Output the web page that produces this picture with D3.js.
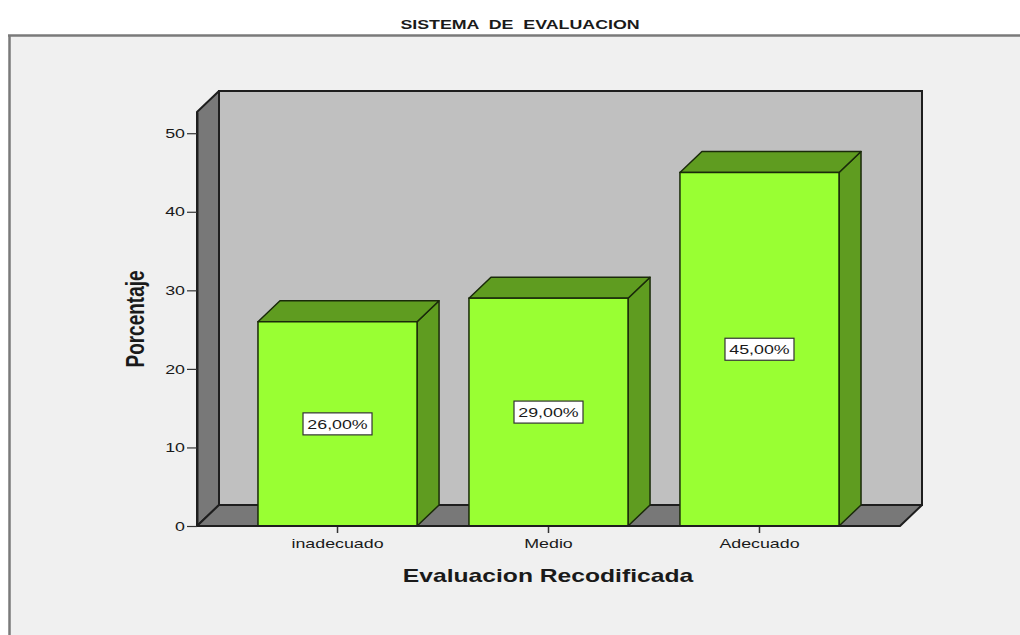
<!DOCTYPE html>
<html>
<head>
<meta charset="utf-8">
<script src="https://cdn.jsdelivr.net/npm/d3@7/dist/d3.min.js"></script>
<style>
  html, body { margin: 0; padding: 0; background: #ffffff; }
  svg { display: block; }
  text { font-family: "Liberation Sans", Arial, sans-serif; fill: #1a1a1a; }
</style>
</head>
<body>
<svg id="chart" width="1020" height="635"></svg>
<script>
// Chart data
const categories = ["inadecuado", "Medio", "Adecuado"];
const percentages = [26, 29, 45];
const yTicks = [0, 10, 20, 30, 40, 50];
const yExtent = [0, 52.7];
const chartTitle = "SISTEMA  DE  EVALUACION";
const xTitle = "Evaluacion Recodificada";
const yTitle = "Porcentaje";

const W = 1020, H = 635;
const SX = 1.37;              // horizontal stretch applied to all text
const depth = { dx: 22, dy: -21 };
const plot = { left: 197, right: 900, bottom: 526, top: 112 };

const svg = d3.select("#chart");

// Stretched text helper
function stretchedText(g, x, y, str, opts) {
  const t = g.append("text")
    .attr("transform", `translate(${x},${y}) scale(${SX},1)` + (opts.rotate ? ` rotate(${opts.rotate})` : ""))
    .attr("text-anchor", opts.anchor || "middle")
    .style("font-size", opts.size + "px")
    .style("font-weight", opts.weight || "normal")
    .text(str);
  if (opts.dy) t.attr("dy", opts.dy);
  return t;
}

// Title
stretchedText(svg, 520, 28.5, chartTitle, { size: 13, weight: "bold" }).style("white-space", "pre").attr("xml:space", "preserve");

// Panel
svg.append("rect").attr("x", 9).attr("y", 35).attr("width", W).attr("height", H)
  .attr("fill", "#f0f0f0");
svg.append("line").attr("x1", 8).attr("x2", W).attr("y1", 35.5).attr("y2", 35.5)
  .attr("stroke", "#7a7a7a").attr("stroke-width", 2.5);
svg.append("line").attr("x1", 9.5).attr("x2", 9.5).attr("y1", 35).attr("y2", H)
  .attr("stroke", "#7a7a7a").attr("stroke-width", 2.5);

// Scales
const x = d3.scaleBand().domain(categories)
  .range([plot.left, plot.right]).paddingInner(0.246).paddingOuter(0.289);
const y = d3.scaleLinear().domain(yExtent).range([plot.bottom, plot.top]);

const dx = depth.dx, dy = depth.dy;
const y0 = y(yExtent[0]), yTop = y(yExtent[1]);
const wallStroke = "#1e1e1e";

// Back wall
svg.append("rect")
  .attr("x", plot.left + dx).attr("y", yTop + dy)
  .attr("width", plot.right - plot.left).attr("height", y0 - yTop)
  .attr("fill", "#c0c0c0").attr("stroke", wallStroke).attr("stroke-width", 2);

// Left wall
svg.append("polygon")
  .attr("points", [[plot.left, y0], [plot.left, yTop], [plot.left + dx, yTop + dy], [plot.left + dx, y0 + dy]].join(" "))
  .attr("fill", "#787878").attr("stroke", wallStroke).attr("stroke-width", 2).attr("stroke-linejoin", "round");

// Floor
svg.append("polygon")
  .attr("points", [[plot.left, y0], [plot.right, y0], [plot.right + dx, y0 + dy], [plot.left + dx, y0 + dy]].join(" "))
  .attr("fill", "#787878").attr("stroke", wallStroke).attr("stroke-width", 2).attr("stroke-linejoin", "round");

// Bars
const data = categories.map((c, i) => ({ c, v: percentages[i] }));
const bars = svg.append("g").selectAll("g").data(data).join("g");
const barStroke = "#1a2a0a";
const bw = x.bandwidth();

bars.append("polygon") // side
  .attr("points", d => {
    const x1 = x(d.c) + bw, yv = y(d.v);
    return [[x1, yv], [x1 + dx, yv + dy], [x1 + dx, y0 + dy], [x1, y0]].join(" ");
  })
  .attr("fill", "#5f9c20").attr("stroke", barStroke).attr("stroke-width", 1.5).attr("stroke-linejoin", "round");

bars.append("polygon") // top
  .attr("points", d => {
    const x0 = x(d.c), yv = y(d.v);
    return [[x0, yv], [x0 + dx, yv + dy], [x0 + bw + dx, yv + dy], [x0 + bw, yv]].join(" ");
  })
  .attr("fill", "#5f9c20").attr("stroke", barStroke).attr("stroke-width", 1.5).attr("stroke-linejoin", "round");

bars.append("rect") // front
  .attr("x", d => x(d.c)).attr("y", d => y(d.v))
  .attr("width", bw).attr("height", d => y0 - y(d.v))
  .attr("fill", "#99ff33").attr("stroke", barStroke).attr("stroke-width", 1.5);

// Value labels
const esLocale = d3.formatLocale({ decimal: ",", thousands: ".", grouping: [3], currency: ["", "€"] });
const fmt = v => esLocale.format(".2f")(v) + "%";
const labels = bars.append("g")
  .attr("transform", d => `translate(${x(d.c) + bw / 2},${(y(d.v) + y0) / 2})`);
labels.append("rect")
  .attr("x", -34.5).attr("y", -11).attr("width", 69).attr("height", 22)
  .attr("fill", "#ffffff").attr("stroke", "#333333").attr("stroke-width", 1.2);
labels.each(function (d) {
  stretchedText(d3.select(this), 0, 5, fmt(d.v), { size: 13 });
});

// Y axis
const yAxis = svg.append("g")
  .attr("transform", `translate(${plot.left},0)`)
  .call(d3.axisLeft(y).tickValues(yTicks).tickSize(10).tickSizeOuter(0).tickPadding(2));
yAxis.select(".domain").attr("stroke", "#1e1e1e").attr("stroke-width", 2);
yAxis.selectAll(".tick line").attr("stroke", "#333").attr("stroke-width", 1.2);
yAxis.selectAll(".tick text")
  .attr("x", -12 / SX)
  .attr("transform", `scale(${SX},1)`)
  .style("font-size", "13px").style("font-family", "'Liberation Sans', Arial, sans-serif")
  .attr("fill", "#222");

// X axis
const xAxis = svg.append("g")
  .attr("transform", `translate(0,${y0})`)
  .call(d3.axisBottom(x).tickSize(7).tickSizeOuter(0).tickPadding(6));
xAxis.select(".domain").remove();
xAxis.selectAll(".tick line").attr("stroke", "#333").attr("stroke-width", 1.5);
xAxis.selectAll(".tick text")
  .attr("transform", `scale(${SX},1)`)
  .style("font-size", "13px").style("font-family", "'Liberation Sans', Arial, sans-serif")
  .attr("fill", "#222");

// Floor front edge over the axis
svg.append("line").attr("x1", plot.left).attr("x2", plot.right).attr("y1", y0).attr("y2", y0)
  .attr("stroke", "#1e1e1e").attr("stroke-width", 2);

// Axis titles
stretchedText(svg, 548, 582, xTitle, { size: 18, weight: "bold" });
stretchedText(svg, 144, 319, yTitle, { size: 19, weight: "bold", rotate: -90 });
</script>
</body>
</html>
